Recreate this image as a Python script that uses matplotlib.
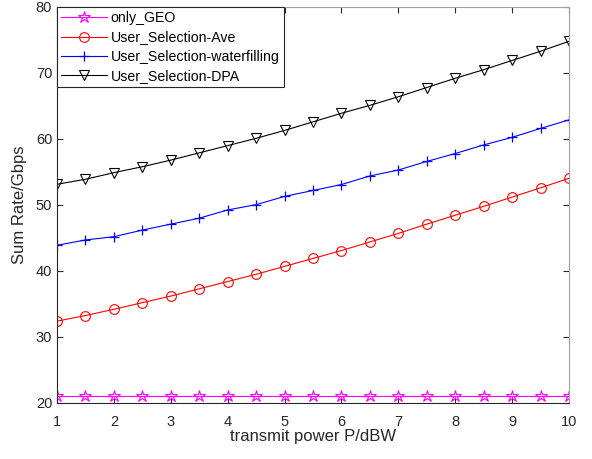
import matplotlib
matplotlib.use("Agg")
from matplotlib import pyplot as plt
import numpy as np

# transmit power P/dBW
power = [1, 1.5, 2, 2.5, 3, 3.5, 4, 4.5, 5, 5.5, 6, 6.5, 7, 7.5, 8, 8.5, 9, 9.5, 10]

only_geo = [21.0] * 19
us_ave = [32.4, 33.25, 34.2, 35.2, 36.2, 37.3, 38.4, 39.5, 40.7, 41.9,
          43.1, 44.4, 45.7, 47.1, 48.45, 49.8, 51.2, 52.6, 54.05]
us_wf = [43.9, 44.7, 45.2, 46.2, 47.1, 48.0, 49.25, 50.05, 51.3, 52.2,
         53.1, 54.4, 55.3, 56.6, 57.8, 59.1, 60.25, 61.6, 62.9]
us_dpa = [53.14, 53.9, 54.9, 55.8, 56.8, 57.9, 59.0, 60.1, 61.3, 62.6,
          63.9, 65.1, 66.4, 67.8, 69.2, 70.5, 71.9, 73.3, 74.8]

plt.rcParams['font.family'] = ['Liberation Sans', 'DejaVu Sans']
text_col = "#262626"

fig = plt.figure(figsize=(5.92, 4.59), dpi=100)
ax = fig.add_axes([57 / 592, (459 - 403) / 459, 512 / 592, 396 / 459])

lw = 0.8
ax.plot(power, only_geo, color="#ff00ff", marker="*", markersize=9, markerfacecolor="none",
        linewidth=lw, markeredgewidth=0.8, label="only_GEO")
ax.plot(power, us_ave, color="#ff0000", marker="o", markersize=7, markerfacecolor="none",
        linewidth=lw, markeredgewidth=0.8, label="User_Selection-Ave")
ax.plot(power, us_wf, color="#0000ff", marker="+", markersize=7,
        linewidth=lw, markeredgewidth=0.9, label="User_Selection-waterfilling")
ax.plot(power, us_dpa, color="black", marker="v", markersize=7.5, markerfacecolor="none",
        linewidth=lw, markeredgewidth=0.8, label="User_Selection-DPA")

ax.set_xlim(1, 10)
ax.set_ylim(20, 80)
ax.set_xticks(range(1, 11))
ax.set_yticks(range(20, 81, 10))
ax.tick_params(direction="in", top=True, right=True, length=4, width=0.8,
               labelsize=10.5, colors=text_col)
ax.tick_params(axis="x", pad=9)
ax.tick_params(axis="y", pad=3.5)
for side in ["left", "bottom"]:
    ax.spines[side].set_color(text_col)
    ax.spines[side].set_linewidth(0.8)
for side in ["top", "right"]:
    ax.spines[side].set_color("#a0a0a0")
    ax.spines[side].set_linewidth(0.8)

ax.set_xlabel("transmit power P/dBW", fontsize=12, color=text_col, labelpad=0)
ax.set_ylabel("Sum Rate/Gbps", fontsize=12, color=text_col, labelpad=6)

leg = ax.legend(loc="upper left", fontsize=10.2, frameon=True, fancybox=False,
                borderaxespad=0, handlelength=3.2, handletextpad=0.3,
                labelspacing=0.37, borderpad=0.3)
leg.get_frame().set_edgecolor(text_col)
leg.get_frame().set_linewidth(0.8)
leg.get_frame().set_alpha(1)

fig.savefig("out.png", dpi=100)
